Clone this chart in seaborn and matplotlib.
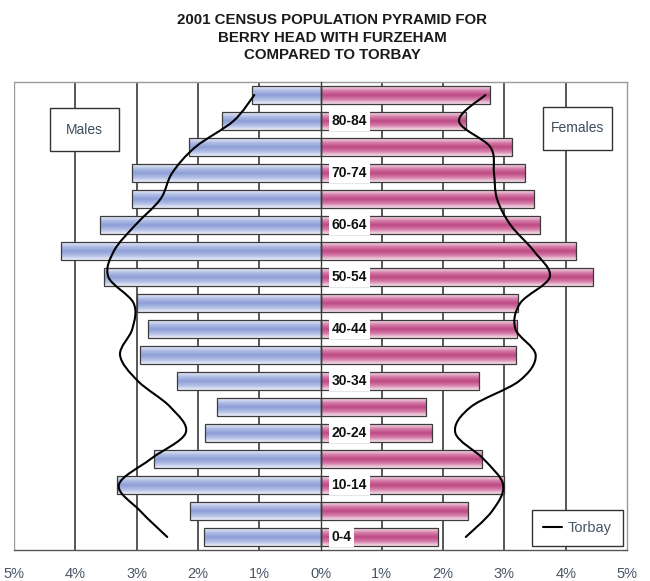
import numpy as np
import pandas as pd
import matplotlib
matplotlib.use("Agg")
import matplotlib.pyplot as plt
import seaborn as sns
from matplotlib.path import Path
from matplotlib.patches import PathPatch, Rectangle
from matplotlib.lines import Line2D
from matplotlib.colors import LinearSegmentedColormap

# ---------------- data ----------------
age_groups = ["0-4", "5-9", "10-14", "15-19", "20-24", "25-29", "30-34", "35-39",
              "40-44", "45-49", "50-54", "55-59", "60-64", "65-69", "70-74",
              "75-79", "80-84", "85+"]
male_pct = [1.90, 2.13, 3.32, 2.71, 1.89, 1.69, 2.34, 2.95, 2.81, 3.00,
            3.53, 4.23, 3.59, 3.07, 3.07, 2.14, 1.61, 1.11]
female_pct = [1.91, 2.40, 2.99, 2.63, 1.82, 1.72, 2.59, 3.19, 3.20, 3.22,
              4.45, 4.17, 3.58, 3.48, 3.33, 3.13, 2.37, 2.76]
torbay_male = [2.50, 2.94, 3.29, 2.77, 2.20, 2.45, 2.98, 3.27, 3.07, 3.05,
               3.46, 3.37, 3.02, 2.61, 2.42, 2.04, 1.42, 1.08]
torbay_female = [2.37, 2.80, 2.98, 2.66, 2.20, 2.45, 3.24, 3.51, 3.18, 3.26,
                 3.74, 3.48, 3.10, 2.88, 2.83, 2.77, 2.26, 2.69]
labelled_groups = ["0-4", "10-14", "20-24", "30-34", "40-44", "50-54",
                   "60-64", "70-74", "80-84"]
x_ticks = [-5, -4, -3, -2, -1, 0, 1, 2, 3, 4, 5]
x_tick_labels = ["5%", "4%", "3%", "2%", "1%", "0%", "1%", "2%", "3%", "4%", "5%"]
title_text = "2001 CENSUS POPULATION PYRAMID FOR\nBERRY HEAD WITH FURZEHAM\nCOMPARED TO TORBAY"
series_name = "Torbay"

# ---------------- style ----------------
sns.set_style("white")
plt.rcParams["font.family"] = ["Liberation Sans", "DejaVu Sans"]

fig = plt.figure(figsize=(6.5, 5.81), dpi=100)
ax = fig.add_axes([14 / 650, 31 / 581, 613 / 650, 468 / 581])

order = age_groups[::-1]  # 85+ at top
df = pd.DataFrame({"age": age_groups,
                   "male": [-v for v in male_pct],
                   "female": female_pct})

sns.barplot(data=df, x="male", y="age", order=order, orient="y", width=0.68,
            color="#8a9dd5", edgecolor="#3c3c3c", linewidth=0.9, ax=ax,
            saturation=1)
n_male = len(ax.patches)
sns.barplot(data=df, x="female", y="age", order=order, orient="y", width=0.68,
            color="#c04c86", edgecolor="#3c3c3c", linewidth=0.9, ax=ax,
            saturation=1)

blue_cmap = LinearSegmentedColormap.from_list(
    "b", ["#eef1fa", "#b0bde5", "#8c9fd6", "#b0bde5", "#eef1fa"])
pink_cmap = LinearSegmentedColormap.from_list(
    "p", ["#f8e4ee", "#d47ea9", "#be4783", "#d47ea9", "#f8e4ee"])
grad = np.linspace(0, 1, 64).reshape(-1, 1)
for i, p in enumerate(ax.patches):
    cmap = blue_cmap if i < n_male else pink_cmap
    x0, y0, w, h = p.get_x(), p.get_y(), p.get_width(), p.get_height()
    im = ax.imshow(grad, cmap=cmap, aspect="auto",
                   extent=[x0, x0 + w, y0 + h, y0], zorder=2.5,
                   interpolation="bilinear")
    im.set_clip_path(p)
    p.set_facecolor("none")
    p.set_zorder(3)

# Torbay smooth line (Bezier through the readings)
pos = {g: i for i, g in enumerate(order)}
def smooth_path(xs, ys):
    pts = np.column_stack([xs, ys])
    n = len(pts)
    verts = [pts[0]]
    codes = [Path.MOVETO]
    for i in range(n - 1):
        p0 = pts[i - 1] if i > 0 else pts[i]
        p1 = pts[i]
        p2 = pts[i + 1]
        p3 = pts[i + 2] if i + 2 < n else pts[i + 1]
        c1 = p1 + (p2 - p0) / 6.0
        c2 = p2 - (p3 - p1) / 6.0
        verts += [c1, c2, p2]
        codes += [Path.CURVE4] * 3
    return Path(verts, codes)

ys = [pos[g] for g in age_groups]
for vals, sign in ((torbay_male, -1), (torbay_female, 1)):
    path = smooth_path([sign * v for v in vals], ys)
    ax.add_patch(PathPatch(path, facecolor="none", edgecolor="black",
                           lw=1.5, zorder=5, capstyle="round"))

# axes set-up
ax.set_xlim(-5, 5)
ax.set_ylim(len(order) - 0.5, -0.5)
for xv in x_ticks:
    if xv in (-5, 5, 0):
        continue
    ax.axvline(xv, color="#4a4a4a", lw=1.3, zorder=0)
ax.axvline(-5, color="#9a9a9a", lw=1.0, zorder=0)

ax.spines["left"].set_position(("data", 0))
ax.spines["left"].set_color("#3c3c3c")
ax.spines["left"].set_linewidth(1.0)
ax.spines["left"].set_zorder(4)
ax.spines["right"].set_color("#9a9a9a")
ax.spines["top"].set_color("#9a9a9a")
ax.spines["bottom"].set_color("#555555")
for s in ("right", "top", "bottom"):
    ax.spines[s].set_linewidth(1.0)

ax.set_yticks([i + 0.5 for i in range(len(order) - 1)])
ax.set_yticklabels([])
ax.tick_params(axis="y", direction="in", length=4, width=1, color="#3c3c3c")
ax.set_xticks(x_ticks)
ax.set_xticklabels(x_tick_labels)
ax.tick_params(axis="x", direction="out", length=5, width=1, color="#555555",
               labelsize=10.5, labelcolor="#4a5566", pad=7)
ax.set_xlabel("")
ax.set_ylabel("")

for g in labelled_groups:
    ax.text(0.18, pos[g], g, ha="left", va="center", fontsize=10,
            fontweight="bold", color="#111111", zorder=6,
            bbox=dict(facecolor="white", edgecolor="none", pad=2.0))

# Males / Females boxes
for (x0, y0, lab) in ((50, 108, "Males"), (543, 107, "Females")):
    fig.add_artist(Rectangle((x0 / 650, 1 - (y0 + 43) / 581), 69 / 650, 43 / 581,
                             transform=fig.transFigure, facecolor="white",
                             edgecolor="#333333", lw=1.0, zorder=10))
    fig.text((x0 + 34.5) / 650, 1 - (y0 + 21.5) / 581, lab, ha="center",
             va="center", fontsize=10, color="#3d4d5e", zorder=11)

leg = ax.legend(handles=[Line2D([], [], color="black", lw=1.5)],
                labels=[series_name], loc="lower right",
                bbox_to_anchor=(0.9935, 0.0085), frameon=True, fancybox=False,
                edgecolor="#333333", framealpha=1, fontsize=10.5,
                handlelength=1.3, handletextpad=0.4, borderpad=0.75,
                borderaxespad=0)
leg.get_frame().set_linewidth(1.0)
leg.set_zorder(10)
for t in leg.get_texts():
    t.set_color("#4a5566")

fig.text(0.511, 1 - 37.5 / 581, title_text, ha="center", va="center",
         fontsize=10.8, fontweight="bold", color="#1a1a1a", linespacing=1.3)

fig.savefig("out.png", dpi=100, facecolor="white")
